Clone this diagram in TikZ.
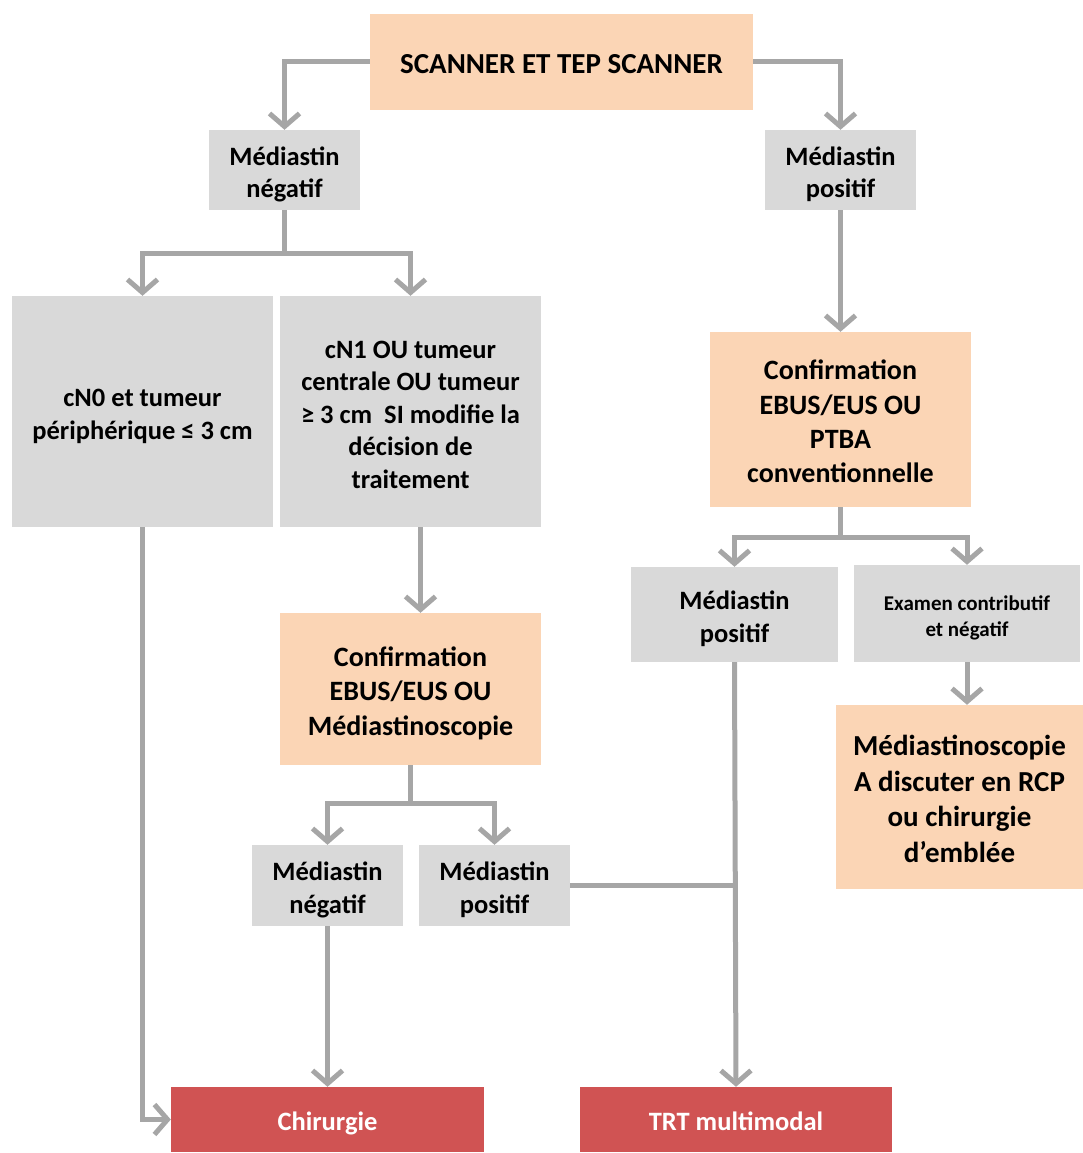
\documentclass[tikz,border=0pt]{standalone}
\usepackage{fontspec}
\setmainfont{Carlito}
\usetikzlibrary{arrows.meta}
\definecolor{lgray}{HTML}{D9D9D9}
\definecolor{lorange}{HTML}{FBD5B5}
\definecolor{lred}{HTML}{D05353}
\definecolor{lline}{HTML}{A6A6A6}
\newcommand\boxtxt[1]{\raisebox{-5pt}[\height][\depth]{\begin{tabular}{@{}c@{}}#1\end{tabular}}}
\tikzset{
  box/.style={inner sep=0pt, font=\bfseries\fontsize{26.5}{32.5}\selectfont},
  graybox/.style={box, fill=lgray},
  orangebox/.style={box, fill=lorange},
  redbox/.style={box, fill=lred, text=white},
  lineonly/.style={draw=lline, line width=5pt},
  conn/.style={lineonly, -{Straight Barb[length=13pt,width=30pt]}},
}
\begin{document}
\begin{tikzpicture}[x=1pt,y=-1pt]
\useasboundingbox (0,0) rectangle (1083,1153);
% nodes
\node[orangebox, minimum width=383pt, minimum height=96pt, font=\bfseries\fontsize{29}{34}\selectfont] (top) at (561.5,62) {\boxtxt{SCANNER ET TEP SCANNER}};
\node[graybox, minimum width=151pt, minimum height=80pt] (mn1) at (284.5,170) {\boxtxt{Médiastin\\négatif}};
\node[graybox, minimum width=151pt, minimum height=80pt] (mp1) at (840.5,170) {\boxtxt{Médiastin\\positif}};
\node[graybox, minimum width=261pt, minimum height=231pt] (cn0) at (142.5,411.5) {\boxtxt{cN0 et tumeur\\périphérique ≤ 3 cm}};
\node[graybox, minimum width=261pt, minimum height=231pt] (cn1) at (410.5,411.5) {\boxtxt{cN1 OU tumeur\\centrale OU tumeur\\≥ 3 cm~ SI modifie la\\décision de\\traitement}};
\node[orangebox, minimum width=261pt, minimum height=175pt, font=\bfseries\fontsize{28}{34.3}\selectfont] (confR) at (840.5,419.5) {\boxtxt{Confirmation\\EBUS/EUS OU\\PTBA\\conventionnelle}};
\node[graybox, minimum width=207pt, minimum height=95pt] (mp2) at (734.5,614.5) {\boxtxt{Médiastin\\positif}};
\node[graybox, minimum width=226pt, minimum height=97pt, font=\bfseries\fontsize{21}{26}\selectfont] (ex) at (967,613.5) {\boxtxt{Examen contributif\\et négatif}};
\node[orangebox, minimum width=247pt, minimum height=184pt, font=\bfseries\fontsize{29}{35.5}\selectfont] (med) at (959.5,797) {\boxtxt{Médiastinoscopie\\A discuter en RCP\\ou chirurgie\\d’emblée}};
\node[orangebox, minimum width=261pt, minimum height=152pt, font=\bfseries\fontsize{28}{34.3}\selectfont] (confL) at (410.5,689) {\boxtxt{Confirmation\\EBUS/EUS OU\\Médiastinoscopie}};
\node[graybox, minimum width=151pt, minimum height=81pt] (mn2) at (327.5,885.5) {\boxtxt{Médiastin\\négatif}};
\node[graybox, minimum width=151pt, minimum height=81pt] (mp3) at (494.5,885.5) {\boxtxt{Médiastin\\positif}};
\node[redbox, minimum width=313pt, minimum height=65pt, font=\bfseries\fontsize{26.5}{30}\selectfont] (chir) at (327.5,1119.5) {\boxtxt{Chirurgie}};
\node[redbox, minimum width=312pt, minimum height=65pt, font=\bfseries\fontsize{26.5}{30}\selectfont] (trt) at (736,1119.5) {\boxtxt{TRT multimodal}};
% connectors
\draw[conn] (top.west) -| (mn1.north);
\draw[conn] (top.east) -| (mp1.north);
\draw[lineonly] (mn1.south) -- ++(0,43) coordinate (j1);
\draw[conn] (j1) -| (cn0.north);
\draw[conn] (j1) -| (cn1.north);
\draw[conn] (mp1.south) -- (confR.north);
\draw[lineonly] (confR.south) -- ++(0,30) coordinate (j2);
\draw[conn] (j2) -| (mp2.north);
\draw[conn] (j2) -| (ex.north);
\draw[conn] (ex.south) -- (ex.south |- med.north);
\draw[conn] ([xshift=10pt]cn1.south) -- ([xshift=10pt]confL.north);
\draw[lineonly] (confL.south) -- ++(0,38) coordinate (j3);
\draw[conn] (j3) -| (mn2.north);
\draw[conn] (j3) -| (mp3.north);
\draw[conn] (mn2.south) -- (chir.north);
\draw[conn] (cn0.south) |- (chir.west);
\draw[conn] (mp2.south) -- (trt.north);
\draw[lineonly] (mp3.east) -- (mp2.south |- mp3.east);
\end{tikzpicture}
\end{document}
